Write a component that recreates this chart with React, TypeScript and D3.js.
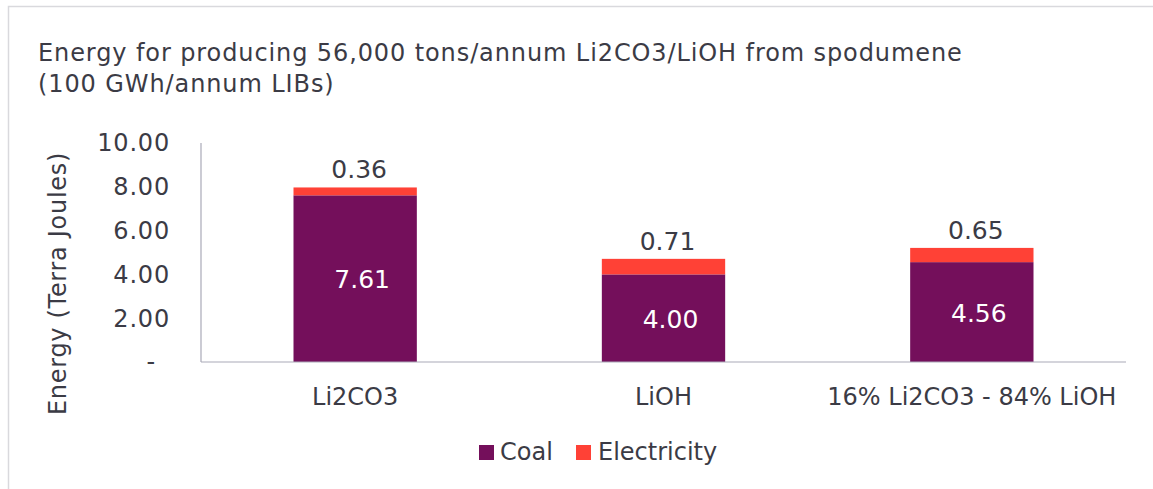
import React from "react";
import * as d3 from "d3";

const categories = ["Li2CO3", "LiOH", "16% Li2CO3 - 84% LiOH"];
const coal = [7.61, 4.0, 4.56];
const electricity = [0.36, 0.71, 0.65];
const yTicks = [0, 2, 4, 6, 8, 10];
const seriesNames = ["Coal", "Electricity"];
const colors = ["#740F5B", "#FF4136"];

const W = 1153;
const H = 489;
const FONT = "'DejaVu Sans', sans-serif";
const TEXT = "#3b3b45";
const FS = 24;

export default function App() {
  const x = d3.scaleBand<string>().domain(categories).range([201, 1126]).paddingInner(0.6).paddingOuter(0.3);
  const y = d3.scaleLinear().domain([0, 10]).range([362, 143]);
  const fmt = d3.format(".2f");

  return (
    <svg width={W} height={H} style={{ position: "absolute", left: 0, top: 0, background: "#fff" }} fontFamily={FONT}>
      <rect x={8.5} y={6.5} width={W + 20} height={H + 20} fill="none" stroke="#d9d9dd" strokeWidth={1.5} />
      <text x={38} y={61} fontSize={FS} letterSpacing={0.9} fill={TEXT}>
        Energy for producing 56,000 tons/annum Li2CO3/LiOH from spodumene
      </text>
      <text x={38} y={92} fontSize={FS} letterSpacing={0.9} fill={TEXT}>
        (100 GWh/annum LIBs)
      </text>
      <text transform={`translate(66,283.5) rotate(-90)`} textAnchor="middle" fontSize={FS} letterSpacing={0.7} fill={TEXT}>
        Energy (Terra Joules)
      </text>
      {yTicks.map((t) => (
        <text key={t} x={t === 0 ? 156 : 170} y={y(t)} dy="0.35em" textAnchor="end" fontSize={FS} letterSpacing={0.8} fill={TEXT}>
          {t === 0 ? "-" : fmt(t)}
        </text>
      ))}
      <line x1={201} x2={201} y1={143} y2={362} stroke="#a9a9b8" strokeWidth={1.2} />
      {categories.map((c, i) => {
        const bx = x(c)!;
        const bw = x.bandwidth();
        const total = coal[i] + electricity[i];
        return (
          <g key={c}>
            <rect x={bx} y={y(coal[i])} width={bw} height={y(0) - y(coal[i])} fill={colors[0]} />
            <rect x={bx} y={y(total)} width={bw} height={y(coal[i]) - y(total)} fill={colors[1]} />
            <text x={bx + bw / 2 + 7} y={(y(0) + y(coal[i])) / 2 + 1} dy="0.35em" textAnchor="middle" fontSize={25} fill="#ffffff">
              {fmt(coal[i])}
            </text>
            <text x={bx + bw / 2 + 4} y={y(total) - 18} dy="0.35em" textAnchor="middle" fontSize={25} fill={TEXT}>
              {fmt(electricity[i])}
            </text>
            <text x={bx + bw / 2} y={396.5} dy="0.35em" textAnchor="middle" fontSize={FS} fill={TEXT}>
              {c}
            </text>
          </g>
        );
      })}
      <line x1={201} x2={1126} y1={362} y2={362} stroke="#a9a9b8" strokeWidth={1.2} />
      <rect x={479} y={445} width={15} height={15} fill={colors[0]} />
      <text x={500} y={451.5} dy="0.35em" fontSize={FS} fill={TEXT}>{seriesNames[0]}</text>
      <rect x={576} y={445} width={15} height={15} fill={colors[1]} />
      <text x={598} y={451.5} dy="0.35em" fontSize={FS} fill={TEXT}>{seriesNames[1]}</text>
    </svg>
  );
}
